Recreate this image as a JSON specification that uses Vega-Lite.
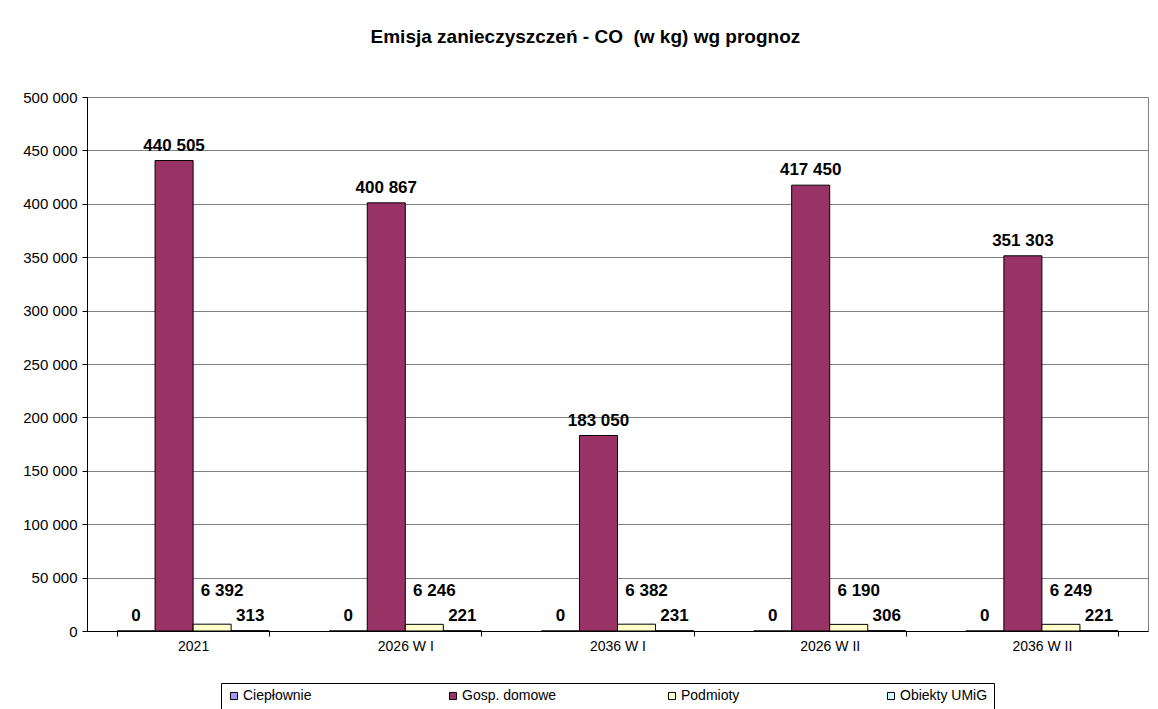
{
  "$schema": "https://vega.github.io/schema/vega-lite/v6.json",
  "width": 1061,
  "height": 534,
  "autosize": "none",
  "padding": {"left": 87, "top": 97, "right": 10, "bottom": 78},
  "title": {
    "text": "Emisja zanieczyszczeń - CO\u00a0 (w kg) wg prognoz",
    "font": "Liberation Sans",
    "fontSize": 19,
    "fontWeight": "bold",
    "color": "black",
    "anchor": "middle",
    "frame": "bounds",
    "offset": 43
  },
  "config": {
    "locale": {"number": {"decimal": ",", "thousands": " ", "grouping": [3], "currency": ["", " zł"]}},
    "view": {"stroke": "#808080", "strokeWidth": 1},
    "font": "Liberation Sans"
  },
  "data": {
    "values": [
      {"cat": "2021", "series": "Ciepłownie", "value": 0},
      {"cat": "2021", "series": "Gosp. domowe", "value": 440505},
      {"cat": "2021", "series": "Podmioty", "value": 6392},
      {"cat": "2021", "series": "Obiekty UMiG", "value": 313},
      {"cat": "2026 W I", "series": "Ciepłownie", "value": 0},
      {"cat": "2026 W I", "series": "Gosp. domowe", "value": 400867},
      {"cat": "2026 W I", "series": "Podmioty", "value": 6246},
      {"cat": "2026 W I", "series": "Obiekty UMiG", "value": 221},
      {"cat": "2036 W I", "series": "Ciepłownie", "value": 0},
      {"cat": "2036 W I", "series": "Gosp. domowe", "value": 183050},
      {"cat": "2036 W I", "series": "Podmioty", "value": 6382},
      {"cat": "2036 W I", "series": "Obiekty UMiG", "value": 231},
      {"cat": "2026 W II", "series": "Ciepłownie", "value": 0},
      {"cat": "2026 W II", "series": "Gosp. domowe", "value": 417450},
      {"cat": "2026 W II", "series": "Podmioty", "value": 6190},
      {"cat": "2026 W II", "series": "Obiekty UMiG", "value": 306},
      {"cat": "2036 W II", "series": "Ciepłownie", "value": 0},
      {"cat": "2036 W II", "series": "Gosp. domowe", "value": 351303},
      {"cat": "2036 W II", "series": "Podmioty", "value": 6249},
      {"cat": "2036 W II", "series": "Obiekty UMiG", "value": 221}
    ]
  },
  "encoding": {
    "x": {
      "field": "cat",
      "type": "nominal",
      "sort": ["2021", "2026 W I", "2036 W I", "2026 W II", "2036 W II"],
      "scale": {"paddingInner": 0.283, "paddingOuter": 0.1415},
      "axis": {
        "title": null,
        "labelAngle": 0,
        "labelFont": "Liberation Sans",
        "labelFontSize": 14,
        "labelColor": "black",
        "labelPadding": 3,
        "tickBand": "extent",
        "tickSize": 5,
        "tickColor": "black",
        "domainColor": "black",
        "grid": false
      }
    },
    "xOffset": {
      "field": "series",
      "type": "nominal",
      "sort": ["Ciepłownie", "Gosp. domowe", "Podmioty", "Obiekty UMiG"],
      "scale": {"paddingInner": 0, "paddingOuter": 0}
    },
    "y": {
      "field": "value",
      "type": "quantitative",
      "scale": {"domain": [0, 500000], "nice": false},
      "axis": {
        "title": null,
        "values": [0, 50000, 100000, 150000, 200000, 250000, 300000, 350000, 400000, 450000, 500000],
        "format": ",d",
        "labelFont": "Liberation Sans",
        "labelFontSize": 15,
        "labelColor": "black",
        "labelPadding": 5,
        "tickSize": 5,
        "tickColor": "black",
        "domainColor": "black",
        "gridColor": "#808080",
        "gridOpacity": 1
      }
    }
  },
  "layer": [
    {
      "mark": {"type": "bar", "stroke": "black", "strokeWidth": 1},
      "encoding": {
        "color": {
          "field": "series",
          "type": "nominal",
          "scale": {
            "domain": ["Ciepłownie", "Gosp. domowe", "Podmioty", "Obiekty UMiG"],
            "range": ["#9999FF", "#993366", "#FFFFCC", "#CCFFFF"]
          },
          "legend": {
            "title": null,
            "orient": "none",
            "legendX": 134,
            "legendY": 586,
            "direction": "horizontal",
            "columns": 4,
            "columnPadding": 108,
            "gridAlign": "all",
            "symbolType": "square",
            "symbolSize": 50,
            "symbolStrokeColor": "black",
            "symbolStrokeWidth": 1,
            "symbolOpacity": 1,
            "labelFont": "Liberation Sans",
            "labelFontSize": 14,
            "labelColor": "black",
            "labelOffset": 2,
            "strokeColor": "black",
            "padding": 6
          }
        }
      }
    },
    {
      "transform": [{"filter": "datum.series != 'Podmioty'"}],
      "mark": {"type": "text", "baseline": "alphabetic", "dy": -10, "fontSize": 17, "fontWeight": "bold", "font": "Liberation Sans", "color": "black"},
      "encoding": {"text": {"field": "value", "type": "quantitative", "format": ",d"}}
    },
    {
      "transform": [{"filter": "datum.series == 'Podmioty'"}],
      "mark": {"type": "text", "baseline": "alphabetic", "dy": -28, "dx": 10, "fontSize": 17, "fontWeight": "bold", "font": "Liberation Sans", "color": "black"},
      "encoding": {"text": {"field": "value", "type": "quantitative", "format": ",d"}}
    }
  ]
}
